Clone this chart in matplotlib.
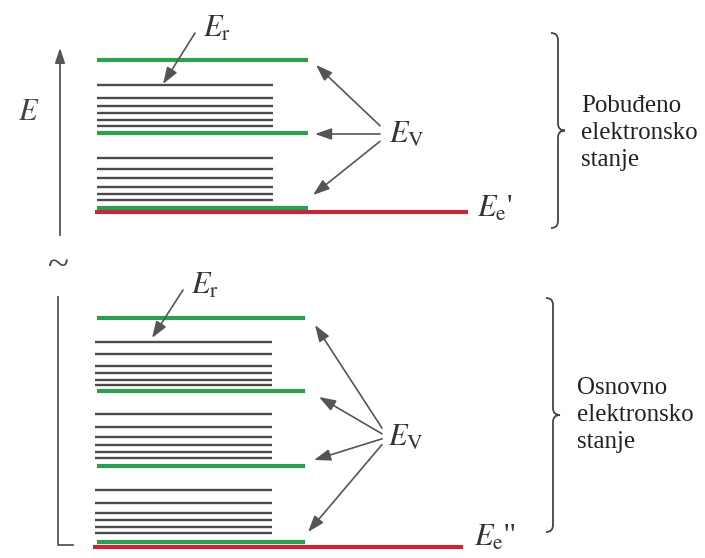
import numpy as np
import matplotlib
matplotlib.use("Agg")
import matplotlib.pyplot as plt
from matplotlib.path import Path
from matplotlib.patches import PathPatch

plt.rcParams["mathtext.fontset"] = "stix"
plt.rcParams["font.family"] = ["Liberation Serif", "DejaVu Serif"]

# level positions (pixel units, y grows downwards)
upper_vib = [60, 133, 208]
upper_rot = [85, 98, 106, 113, 120, 126, 158, 169, 178, 187, 194, 200]
upper_el = 212
lower_vib = [318, 391, 466, 542]
lower_rot = [342, 354, 366, 373, 380, 385, 414, 427, 437, 445, 452, 458,
             490, 503, 513, 520, 527, 533]
lower_el = 547

GREEN = "#2f9e4f"
RED = "#c42838"
GRAY = "#555555"

fig = plt.figure(figsize=(7.05, 5.58), dpi=100)
ax = fig.add_axes([0, 0, 1, 1])
ax.set_xlim(0, 705)
ax.set_ylim(558, 0)
ax.axis("off")

# rotational levels
ax.hlines(upper_rot, 97, 273, color="#4a4a4a", lw=1.7)
ax.hlines(lower_rot, 95, 272, color="#4a4a4a", lw=1.7)
# electronic levels
ax.hlines(upper_el, 95, 468, color=RED, lw=3)
ax.hlines(lower_el, 93, 463, color=RED, lw=3)
# vibrational levels
ax.hlines(upper_vib, 97, 308, color=GREEN, lw=3)
ax.hlines(lower_vib, 97, 305, color=GREEN, lw=3)

# energy axis
ax.annotate("", xy=(60, 45), xytext=(60, 238),
            arrowprops=dict(arrowstyle="-|>,head_length=0.9,head_width=0.3",
                            color=GRAY, lw=1.3))
ax.plot([58, 58, 73], [297, 545, 545], color=GRAY, lw=1.3)
ax.text(18, 113, "$E$", fontsize=22, ha="left", va="center", color="#444444")
ax.text(58, 266, "~", fontsize=28, ha="center", va="center", color="#444444")

arw = dict(arrowstyle="-|>,head_length=1.0,head_width=0.35", color=GRAY, lw=1.2,
           shrinkA=0, shrinkB=0)

# rotational labels
ax.text(203, 29, r"$E_\mathrm{r}$", fontsize=22, ha="left", va="center", color="#333333")
ax.annotate("", xy=(163, 84), xytext=(195, 33), arrowprops=arw)
ax.text(191, 286, r"$E_\mathrm{r}$", fontsize=22, ha="left", va="center", color="#333333")
ax.annotate("", xy=(152, 338), xytext=(183, 290), arrowprops=arw)

# vibrational labels
ax.text(389, 135, r"$E_\mathrm{V}$", fontsize=22, ha="left", va="center", color="#333333")
for tx, ty in [(316, 65), (315, 134), (313, 195)]:
    ax.annotate("", xy=(tx, ty), xytext=(380, 134 + (ty - 134) * 0.12), arrowprops=arw)
ax.text(388, 438, r"$E_\mathrm{V}$", fontsize=22, ha="left", va="center", color="#333333")
for tx, ty in [(315, 325), (319, 397), (314, 460), (308, 532)]:
    ax.annotate("", xy=(tx, ty), xytext=(382, 437 + (ty - 437) * 0.08), arrowprops=arw)

# electronic labels
ax.text(477, 209, r"$E_\mathrm{e}$'", fontsize=22, ha="left", va="center", color="#333333")
ax.text(474, 538, r"$E_\mathrm{e}$''", fontsize=22, ha="left", va="center", color="#333333")


def brace(x, y0, y1, w=7):
    ym = (y0 + y1) / 2
    verts = [(x - w, y0), (x, y0), (x, y0 + w), (x, ym - w),
             (x, ym), (x + w, ym), (x, ym), (x, ym + w),
             (x, y1 - w), (x, y1), (x - w, y1)]
    codes = [Path.MOVETO, Path.CURVE3, Path.CURVE3, Path.LINETO,
             Path.CURVE3, Path.CURVE3, Path.CURVE3, Path.CURVE3,
             Path.LINETO, Path.CURVE3, Path.CURVE3]
    ax.add_patch(PathPatch(Path(verts, codes), fill=False, ec="#444444", lw=1.3))


brace(558, 33, 228)
brace(553, 298, 532)

ax.text(581, 133, "Pobuđeno\nelektronsko\nstanje", fontsize=18, ha="left", va="center",
        linespacing=1.3, color="#222222")
ax.text(577, 415, "Osnovno\nelektronsko\nstanje", fontsize=18, ha="left", va="center",
        linespacing=1.3, color="#222222")

fig.savefig("out.png", dpi=100)
